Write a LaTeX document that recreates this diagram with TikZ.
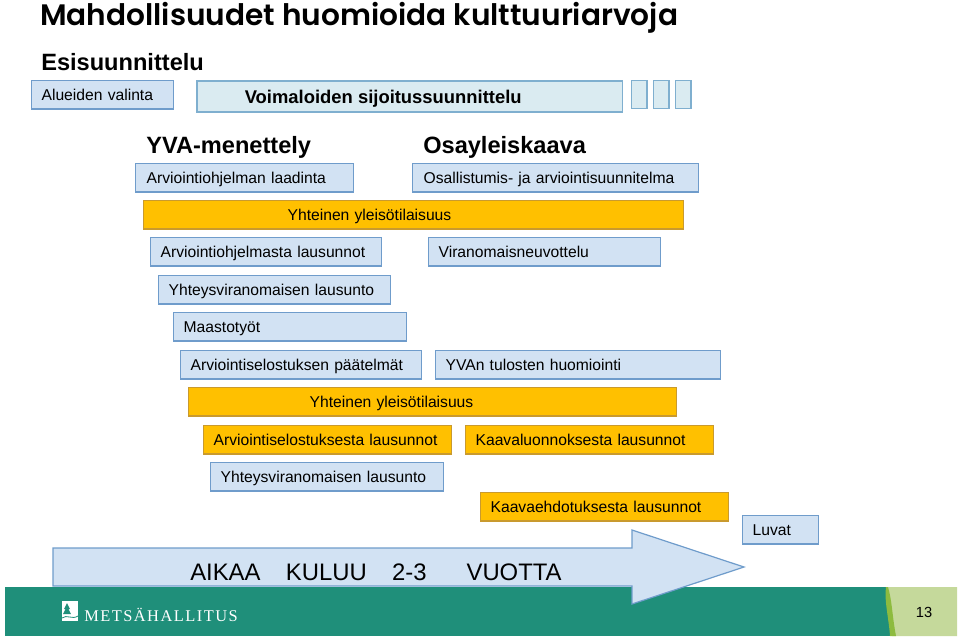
\documentclass[tikz,border=0pt]{standalone}
\usepackage{fontspec}
\setmainfont{Liberation Sans}
\newfontfamily\titlefont{Poppins SemiBold}
\usepackage{xcolor}
\definecolor{boxfill}{HTML}{D2E2F3}
\definecolor{boxline}{HTML}{6F9CCB}
\definecolor{tealfill}{HTML}{DAEBF1}
\definecolor{tealline}{HTML}{7FAFCF}
\definecolor{barfill}{HTML}{FFC000}
\definecolor{barline}{HTML}{C99A2E}
\definecolor{footgreen}{HTML}{1F8F7A}
\definecolor{footmid}{HTML}{8DBB3F}
\definecolor{footlight}{HTML}{C5D99B}

\begin{document}
\begin{tikzpicture}[
		x=0.75pt, y=-0.75pt,
		font=\fontsize{11.75}{14}\selectfont,
		plain/.style={anchor=north west, minimum height=21.25pt, inner ysep=0pt, align=left, text height=10.8pt, text depth=2.8pt},
		bx/.style 2 args={plain, inner xsep=#2*0.75pt, text width=(#1-2*#2-0.3)*0.75pt, draw, line width=0.9pt},
		box/.style 2 args={bx={#1}{#2}, fill=boxfill, draw=boxline},
		bar/.style 2 args={bx={#1}{#2}, fill=barfill, draw=barline},
		smallbox/.style={anchor=north west, fill=tealfill, draw=tealline, line width=1pt, minimum width=11.5pt, minimum height=21pt, inner sep=0pt},
		head/.style={anchor=base west, inner sep=0pt, font=\fontsize{#1}{#1}\selectfont\bfseries}
		]
		\useasboundingbox (0,0) rectangle (960,640);

		% Title
		\node[anchor=base west, inner sep=0pt, font=\titlefont\fontsize{22.2}{24}\selectfont] (title) at (40,25) {Mahdollisuudet huomioida kulttuuriarvoja};
		\node[head=17.7] (esi) at (41,70) {Esisuunnittelu};

		% Top row
		\node[box={142}{10}] (alue) at (31,80) {Alueiden valinta};
		\node[bx={426}{48}, fill=tealfill, draw=tealline, minimum height=23.5pt, text height=13pt, line width=1.2pt] (voima) at (196,80) {\fontsize{13.8}{16}\selectfont\textbf{Voimaloiden sijoitussuunnittelu}};
		\foreach \x/\name in {631/a, 653/b, 675/c}
			\node[smallbox] (pala\name) at (\x,80) {};

		% Headings
		\node[head=17.7] (yva) at (146,153) {YVA-menettely};
		\node[head=17.7] (osa) at (423,153) {Osayleiskaava};

		% Stairs
		\node[box={218}{11}] (ohj) at (135,163) {Arviointiohjelman laadinta};
		\node[box={286}{11}] (osal) at (412,163) {Osallistumis- ja arviointisuunnitelma};
		\node[bar={540}{144}] (yle1) at (143,200) {Yhteinen yleisötilaisuus};
		\node[box={231}{10}] (ohjl) at (150,237) {Arviointiohjelmasta lausunnot};
		\node[box={232}{10}] (vira) at (428,237) {Viranomaisneuvottelu};
		\node[box={232}{10}] (yht1) at (158,275) {Yhteysviranomaisen lausunto};
		\node[box={233}{10}] (maas) at (173,312) {Maastotyöt};
		\node[box={241}{10}] (paat) at (180,350) {Arviointiselostuksen päätelmät};
		\node[box={285}{10}] (tulo) at (435,350) {YVAn tulosten huomiointi};
		\node[bar={488}{121}] (yle2) at (188,387) {Yhteinen yleisötilaisuus};
		\node[bar={248}{10}] (sell) at (203,425) {Arviointiselostuksesta lausunnot};
		\node[bar={248}{10}] (kaav) at (465,425) {Kaavaluonnoksesta lausunnot};
		\node[box={233}{10}] (yht2) at (210,462) {Yhteysviranomaisen lausunto};
		\node[bar={248}{10}] (ehdo) at (480,492) {Kaavaehdotuksesta lausunnot};
		\node[box={76}{10}] (luva) at (742,515) {Luvat};

		% Footer
		\fill[footgreen] (5,587) rectangle (892,636);
		\fill[footlight] (888,587) -- (957,587) -- (957,636) -- (892,636) -- cycle;
		\fill[footmid] (888,587) .. controls (892,600) and (892,615) .. (896,636) -- (890,636) .. controls (889,620) and (884,600) .. (886,587) -- cycle;
		\fill[white] (62,601) rectangle (78,621);
		\fill[footgreen] (67,603) -- (70,609) -- (68.5,609) -- (71,614) -- (63,614) -- (65.5,609) -- (64,609) -- cycle;
		\draw[footgreen, line width=0.6pt] (62,618) .. controls (67,614) and (72,620) .. (78,616);
		\node[anchor=west, inner sep=0pt, text=white, font=\fontspec{Liberation Serif}\fontsize{12.3}{14}\selectfont] (logo) at (84,615) {\addfontfeature{LetterSpace=9}METSÄHALLITUS};
		\node[inner sep=0pt, font=\fontsize{11}{13}\selectfont] (sivu) at (924,612) {13};

		% Time arrow
		\draw[fill=boxfill, draw=boxline, line width=0.9pt] (53,548) -- (632,548) -- (632,530) -- (744,567) -- (632,604) -- (632,586) -- (53,586) -- cycle;
		\node[anchor=west, inner sep=0pt, font=\fontsize{17.9}{20}\selectfont] (aika) at (190,572) {AIKAA\hspace{19pt}KULUU\hspace{19pt}2-3\hspace{30pt}VUOTTA};
	\end{tikzpicture}
\end{document}
